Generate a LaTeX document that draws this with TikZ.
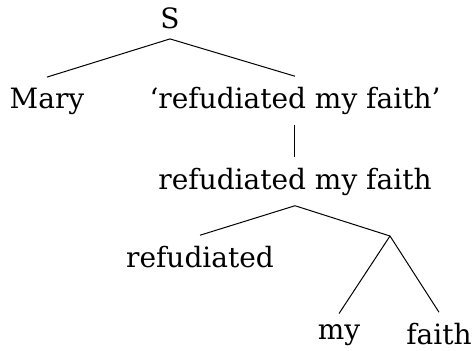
\documentclass[tikz,border=0pt]{standalone}
\usepackage{fontspec}
\setmainfont{DejaVu Serif}
\usepackage{tikz}
\tikzset{w/.style={font=\fontsize{14}{14}\selectfont, anchor=base, inner sep=5pt}}

\begin{document}
\begin{tikzpicture}[x=0.5pt, y=-0.5pt, line width=0.5pt]
        \useasboundingbox (0,0) rectangle (473,350);
        \node [w] (S) at (170,28) {S};
        \node [w] (Mary) at (47,108) {Mary};
        \node [w] (VPq) at (295,108) {`refudiated my faith'};
        \node [w] (VP) at (295,189) {refudiated my faith};
        \node [w] (V) at (200,267) {refudiated};
        \coordinate (NP) at (390,236);
        \node [w] (D) at (339,339) {my};
        \node [w] (N) at (439,344) {faith};
        \draw (S.south) -- (Mary.north);
        \draw (S.south) -- (VPq.north);
        \draw (VPq.south) -- (VP.north);
        \draw (VP.south) -- (V.north);
        \draw (VP.south) -- (NP);
        \draw (NP) -- (D.north);
        \draw (NP) -- (N.north);
      \end{tikzpicture}
\end{document}
